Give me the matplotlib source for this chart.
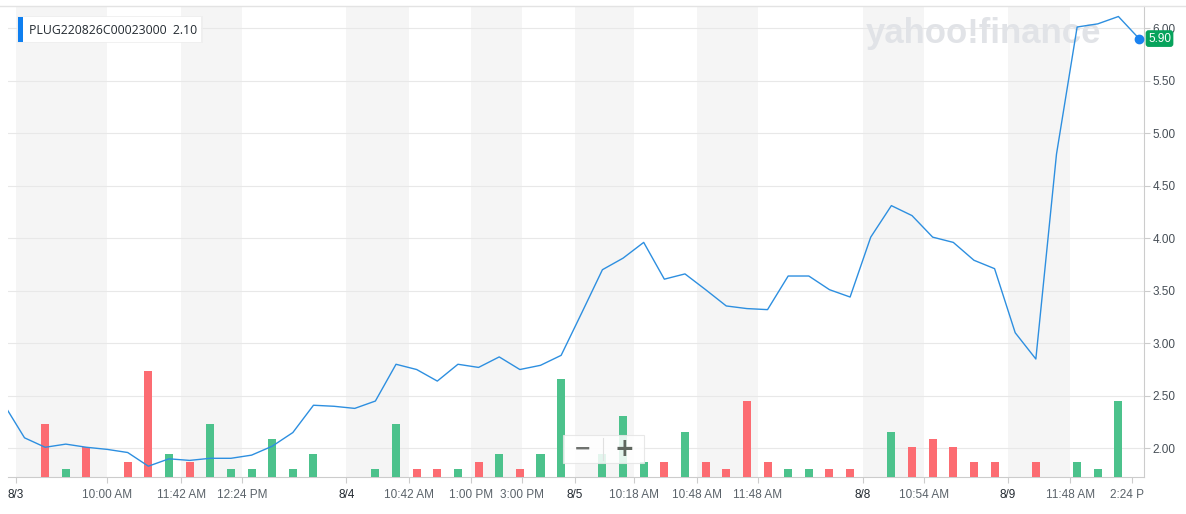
import matplotlib
matplotlib.use('Agg')
import matplotlib.pyplot as plt
from matplotlib.lines import Line2D
from matplotlib.patches import Rectangle
from matplotlib.transforms import Bbox, TransformedBbox, blended_transform_factory

# option PLUG220826C00023000, intraday points 8/3 - 8/9
price = [2.42, 2.10, 2.01, 2.04, 2.01, 1.99, 1.96, 1.83, 1.90, 1.885,
         1.905, 1.905, 1.935, 2.02, 2.15, 2.41, 2.40, 2.38, 2.45, 2.80,
         2.75, 2.64, 2.80, 2.77, 2.87, 2.75, 2.79, 2.885, 3.29, 3.70,
         3.81, 3.96, 3.61, 3.66, 3.51, 3.355, 3.33, 3.32, 3.64, 3.64,
         3.51, 3.44, 4.01, 4.31, 4.215, 4.01, 3.96, 3.79, 3.71, 3.10,
         2.85, 4.80, 6.01, 6.04, 6.11, 5.90]
volume = [0, 0, 7, 1, 4, 0, 2, 14, 3, 2,
          7, 1, 1, 5, 1, 3, 0, 0, 1, 7,
          1, 1, 1, 2, 3, 1, 3, 13, 0, 3,
          8, 2, 2, 6, 2, 1, 10, 2, 1, 1,
          1, 1, 0, 6, 4, 5, 4, 2, 2, 0,
          2, 0, 2, 1, 10, 0]
direction = ['u', 'u', 'd', 'u', 'd', 'u', 'd', 'd', 'u', 'd',
             'u', 'u', 'u', 'u', 'u', 'u', 'u', 'u', 'u', 'u',
             'd', 'd', 'u', 'd', 'u', 'd', 'u', 'u', 'u', 'u',
             'u', 'u', 'd', 'u', 'd', 'd', 'd', 'd', 'u', 'u',
             'd', 'd', 'u', 'u', 'd', 'd', 'd', 'd', 'd', 'u',
             'd', 'u', 'u', 'u', 'u', 'u']

tick_pos = [0.59, 5.02, 8.59, 11.56, 16.6, 19.63, 22.63, 25.1, 27.67,
            30.53, 33.58, 36.54, 41.63, 44.58, 48.65, 51.66, 54.66]
tick_labels = ['8/3', '10:00 AM', '11:42 AM', '12:24 PM', '8/4', '10:42 AM',
               '1:00 PM', '3:00 PM', '8/5', '10:18 AM', '10:48 AM', '11:48 AM',
               '8/8', '10:54 AM', '8/9', '11:48 AM', '2:24 PM']
price_ticks = [2.0, 2.5, 3.0, 3.5, 4.0, 4.5, 5.0, 5.5, 6.0]

W, H = 1186, 514
fig = plt.figure(figsize=(W / 100, H / 100), dpi=100)
fig.patch.set_facecolor('white')


def fx(x):
    return x / W


def fy(y):
    return 1 - y / H


pos = [fx(8), fy(477), fx(1144) - fx(8), fy(6) - fy(477)]
x = list(range(len(price)))

ax = fig.add_axes(pos)
ax.set_xlim(0.2, 55.24)
ax.set_ylim(1.727, 6.21)
for k in range(0, len(tick_pos) - 1, 2):
    ax.axvspan(tick_pos[k], tick_pos[k + 1], color='#f5f5f5', lw=0, zorder=0)
ax.set_axisbelow(True)
ax.yaxis.grid(True, color='#e8e8e8', lw=0.8)
ax.yaxis.tick_right()
ax.set_yticks(price_ticks)
ax.set_yticklabels(['%.2f' % v for v in price_ticks], family='Liberation Sans')
ax.set_xticks(tick_pos)
ax.set_xticklabels(tick_labels, family='Liberation Sans')
ax.tick_params(axis='y', length=4, color='#cccccc', labelcolor='#464e56',
               labelsize=8.5, pad=2)
ax.tick_params(axis='x', length=4, color='#cccccc', labelcolor='#5b636a',
               labelsize=8.5, pad=5)
for s in ['left', 'top']:
    ax.spines[s].set_visible(False)
for s in ['right', 'bottom']:
    ax.spines[s].set_color('#cccccc')
clip = TransformedBbox(Bbox([[fx(8), 0], [fx(1144), 1]]), fig.transFigure)
for lbl in ax.get_xticklabels():
    if '/' in lbl.get_text():
        lbl.set_color('#232a31')
    lbl.set_clip_box(clip)
    lbl.set_clip_on(True)

ax.text(fx(984), fy(33), 'yahoo!finance', transform=fig.transFigure,
        ha='center', va='center', fontsize=25, fontweight='bold',
        family='Liberation Sans', color='#e1e3e7', zorder=1)

# volume bars
axv = fig.add_axes(pos, sharex=ax, zorder=1)
axv.set_facecolor('none')
axv.axis('off')
axv.set_ylim(0, 62.2)
bar_colors = ['#4cc28c' if d == 'u' else '#fc6c72' for d in direction]
axv.bar(x, volume, width=0.39, color=bar_colors, lw=0)

# price line
axl = fig.add_axes(pos, sharex=ax, sharey=ax, zorder=2)
axl.set_facecolor('none')
axl.axis('off')
axl.plot(x, price, color='#2d8fe0', lw=1.0)
axl.plot(x[-1], price[-1], 'o', color='#1a82f0', ms=6, clip_on=False)
bt = blended_transform_factory(axl.transAxes, axl.transData)
axl.text(1.0 + 4 / 1136, price[-1], '%.2f' % price[-1], transform=bt,
         ha='left', va='center', color='white', fontsize=8.5,
         family='Liberation Sans', clip_on=False,
         bbox=dict(boxstyle='round,pad=0.2,rounding_size=0.25',
                   fc='#07a35c', ec='none'))

fig.add_artist(Line2D([0, 1], [fy(6), fy(6)], transform=fig.transFigure,
                      color='#e3e3e3', lw=1))

# legend chip
fig.add_artist(Rectangle((fx(17), fy(43)), fx(203) - fx(17), fy(16) - fy(43),
                         transform=fig.transFigure, fc='#eeeeee', ec='none',
                         alpha=0.8, zorder=5))
fig.add_artist(Rectangle((fx(18), fy(42)), fx(201) - fx(18), fy(17) - fy(42),
                         transform=fig.transFigure, fc='white', ec='none',
                         zorder=6))
fig.add_artist(Rectangle((fx(18), fy(42)), fx(23) - fx(18), fy(17) - fy(42),
                         transform=fig.transFigure, fc='#0f7ff0', ec='none',
                         zorder=7))
fig.text(fx(29), fy(30), 'PLUG220826C00023000  2.10', ha='left', va='center',
         fontsize=8.8, family='Open Sans', color='#232a31', zorder=8)

# zoom control
fig.add_artist(Rectangle((fx(563), fy(463)), fx(644) - fx(563), fy(435) - fy(463),
                         transform=fig.transFigure, fc='white', ec='#e4e4e4',
                         alpha=0.85, lw=0.8, zorder=5))
fig.add_artist(Line2D([fx(603), fx(603)], [fy(460), fy(438)],
                      transform=fig.transFigure, color='#e0e0e0', lw=0.8,
                      zorder=6))
fig.text(fx(583), fy(449), '\u2212', ha='center', va='center', fontsize=15,
         fontweight='bold', color='#6e716e', zorder=7)
fig.text(fx(624), fy(449), '+', ha='center', va='center', fontsize=17,
         fontweight='bold', color='#5f665f', zorder=7)

fig.savefig('out.png', dpi=100)
